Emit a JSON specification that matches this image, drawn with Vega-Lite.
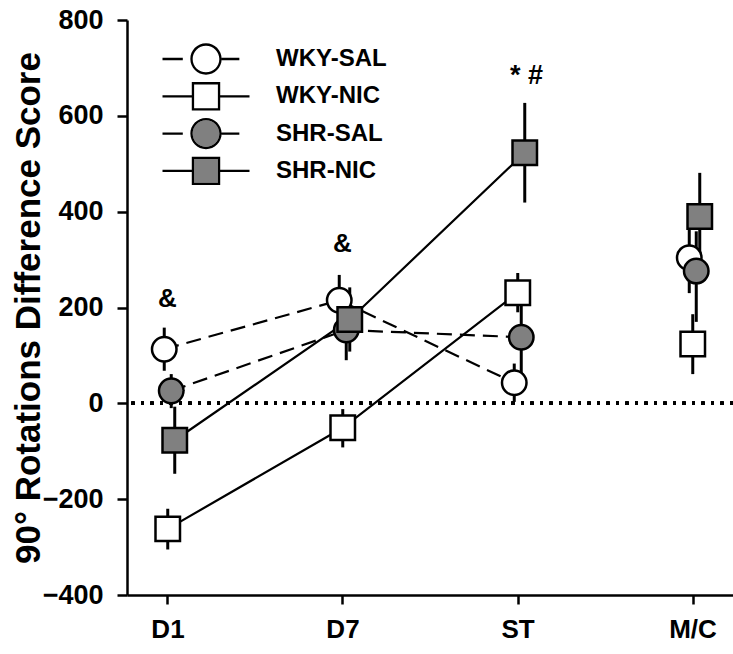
{
  "$schema": "https://vega.github.io/schema/vega-lite/v6.json",
  "width": 606,
  "height": 575,
  "autosize": {"type": "none"},
  "padding": {"left": 127, "top": 20, "right": 0, "bottom": 59},
  "background": "white",
  "config": {
    "view": {"stroke": null},
    "font": "Liberation Sans",
    "axis": {"grid": false, "domainColor": "black", "tickColor": "black", "labelColor": "black", "titleColor": "black", "domainWidth": 2.5, "tickWidth": 2.5, "labelFontWeight": "bold", "labelFont": "Liberation Sans", "titleFont": "Liberation Sans"},
    "legend": {
      "title": null, "orient": "none", "legendX": 64.5, "legendY": 24.5, "padding": 0,
      "symbolSize": 841, "symbolStrokeWidth": 0,
      "labelFontSize": 24, "labelFontWeight": "bold", "labelFont": "Liberation Sans", "labelColor": "black",
      "labelOffset": 55.5, "rowPadding": 4.3
    }
  },
  "datasets": {
    "scores": [
      {"group": "WKY-SAL", "phase": "D1", "mean": 113, "lo": 68, "hi": 158},
      {"group": "WKY-SAL", "phase": "D7", "mean": 215, "lo": 165, "hi": 268},
      {"group": "WKY-SAL", "phase": "ST", "mean": 43, "lo": 3, "hi": 83},
      {"group": "WKY-SAL", "phase": "M/C", "mean": 304, "lo": 230, "hi": 370},
      {"group": "WKY-NIC", "phase": "D1", "mean": -262, "lo": -305, "hi": -220},
      {"group": "WKY-NIC", "phase": "D7", "mean": -51, "lo": -92, "hi": -12},
      {"group": "WKY-NIC", "phase": "ST", "mean": 231, "lo": 190, "hi": 272},
      {"group": "WKY-NIC", "phase": "M/C", "mean": 124, "lo": 61, "hi": 186},
      {"group": "SHR-SAL", "phase": "D1", "mean": 26, "lo": -10, "hi": 61},
      {"group": "SHR-SAL", "phase": "D7", "mean": 153, "lo": 90, "hi": 215},
      {"group": "SHR-SAL", "phase": "ST", "mean": 138, "lo": 43, "hi": 238},
      {"group": "SHR-SAL", "phase": "M/C", "mean": 276, "lo": 170, "hi": 359},
      {"group": "SHR-NIC", "phase": "D1", "mean": -77, "lo": -147, "hi": -7},
      {"group": "SHR-NIC", "phase": "D7", "mean": 175, "lo": 108, "hi": 242},
      {"group": "SHR-NIC", "phase": "ST", "mean": 523, "lo": 419, "hi": 627},
      {"group": "SHR-NIC", "phase": "M/C", "mean": 390, "lo": 290, "hi": 481}
    ],
    "notes": [
      {"phase": "D1", "y": 218, "label": "&"},
      {"phase": "D7", "y": 332, "label": "&"}
    ],
    "stars": [
      {"phase": "ST", "y": 683, "label": "* #"}
    ]
  },
  "resolve": {"scale": {"shape": "independent", "fill": "independent"}},
  "layer": [
    {
      "data": {"name": "scores"},
      "mark": {"type": "rule", "color": "black", "strokeWidth": 3, "strokeDash": [3, 6.5]},
      "encoding": {
        "y": {"datum": 0, "type": "quantitative",
          "scale": {"domain": [-400, 800], "nice": false, "zero": false},
          "axis": {"title": "90°  Rotations Difference Score", "values": [-400, -200, 0, 200, 400, 600, 800], "tickSize": 10, "labelFontSize": 27, "labelPadding": 14, "titleFontSize": 35, "titleFontWeight": "bold", "titlePadding": -4}}
      }
    },
    {
      "data": {"name": "scores"},
      "transform": [{"filter": "datum.phase !== 'M/C' && indexof(datum.group, 'SAL') >= 0"}],
      "mark": {"type": "line", "color": "black", "strokeWidth": 2.2, "strokeDash": [15, 8]},
      "encoding": {
        "x": {"field": "phase", "type": "nominal",
          "scale": {"type": "point", "domain": ["D1", "D7", "ST", "M/C"], "padding": 0.2314},
          "axis": {"title": null, "labelAngle": 0, "tickSize": 9, "labelPadding": 12, "labelFontSize": 26}},
        "xOffset": {"field": "group", "type": "nominal",
          "scale": {"type": "point", "domain": ["WKY-SAL", "WKY-NIC", "SHR-SAL", "SHR-NIC"], "range": [-5, 9]}},
        "y": {"field": "mean", "type": "quantitative"},
        "detail": {"field": "group"}
      }
    },
    {
      "data": {"name": "scores"},
      "transform": [{"filter": "datum.phase !== 'M/C' && indexof(datum.group, 'NIC') >= 0"}],
      "mark": {"type": "line", "color": "black", "strokeWidth": 2.2},
      "encoding": {
        "x": {"field": "phase", "type": "nominal",
          "scale": {"type": "point", "domain": ["D1", "D7", "ST", "M/C"], "padding": 0.2314}},
        "xOffset": {"field": "group", "type": "nominal",
          "scale": {"type": "point", "domain": ["WKY-SAL", "WKY-NIC", "SHR-SAL", "SHR-NIC"], "range": [-5, 9]}},
        "y": {"field": "mean", "type": "quantitative"},
        "detail": {"field": "group"}
      }
    },
    {
      "data": {"name": "scores"},
      "mark": {"type": "rule", "color": "black", "strokeWidth": 3},
      "encoding": {
        "x": {"field": "phase", "type": "nominal",
          "scale": {"type": "point", "domain": ["D1", "D7", "ST", "M/C"], "padding": 0.2314}},
        "xOffset": {"field": "group", "type": "nominal",
          "scale": {"type": "point", "domain": ["WKY-SAL", "WKY-NIC", "SHR-SAL", "SHR-NIC"], "range": [-5, 9]}},
        "y": {"field": "lo", "type": "quantitative"},
        "y2": {"field": "hi"}
      }
    },
    {
      "data": {"name": "scores"},
      "mark": {"type": "point", "filled": true, "stroke": "black", "strokeWidth": 2.5, "opacity": 1, "size": 600},
      "encoding": {
        "x": {"field": "phase", "type": "nominal",
          "scale": {"type": "point", "domain": ["D1", "D7", "ST", "M/C"], "padding": 0.2314}},
        "xOffset": {"field": "group", "type": "nominal",
          "scale": {"type": "point", "domain": ["WKY-SAL", "WKY-NIC", "SHR-SAL", "SHR-NIC"], "range": [-5, 9]}},
        "y": {"field": "mean", "type": "quantitative"},
        "shape": {"field": "group", "type": "nominal", "legend": null,
          "scale": {"domain": ["WKY-SAL", "WKY-NIC", "SHR-SAL", "SHR-NIC"], "range": ["circle", "square", "circle", "square"]}},
        "fill": {"field": "group", "type": "nominal", "legend": null,
          "scale": {"domain": ["WKY-SAL", "WKY-NIC", "SHR-SAL", "SHR-NIC"], "range": ["#ffffff", "#ffffff", "#808080", "#808080"]}}
      }
    },
    {
      "data": {"name": "scores"},
      "transform": [{"filter": "false"}],
      "mark": {"type": "point", "filled": true, "color": "#808080", "strokeWidth": 0, "opacity": 1},
      "encoding": {
        "x": {"field": "phase", "type": "nominal",
          "scale": {"type": "point", "domain": ["D1", "D7", "ST", "M/C"], "padding": 0.2314}},
        "y": {"field": "mean", "type": "quantitative"},
        "shape": {"field": "group", "type": "nominal",
          "scale": {"domain": ["WKY-SAL", "WKY-NIC", "SHR-SAL", "SHR-NIC"],
            "range": [
              "M-0.92,0A0.92,0.92 0 1,1 0.92,0A0.92,0.92 0 1,1 -0.92,0Z M-3,0L-3,0 M3,0L3,0 M0,-1.08L0,-1.08 M0,1.08L0,1.08",
              "M-0.82,-0.82L0.82,-0.82L0.82,0.82L-0.82,0.82Z M-3,0L-3,0 M3,0L3,0 M0,-1.08L0,-1.08 M0,1.08L0,1.08",
              "M-0.92,0A0.92,0.92 0 1,1 0.92,0A0.92,0.92 0 1,1 -0.92,0Z M-3,0L-3,0 M3,0L3,0 M0,-1.08L0,-1.08 M0,1.08L0,1.08",
              "M-0.82,-0.82L0.82,-0.82L0.82,0.82L-0.82,0.82Z M-3,0L-3,0 M3,0L3,0 M0,-1.08L0,-1.08 M0,1.08L0,1.08"]},
          "legend": {"labelOpacity": 0}},
        "fill": {"field": "group", "type": "nominal",
          "scale": {"domain": ["WKY-SAL", "WKY-NIC", "SHR-SAL", "SHR-NIC"], "range": ["#ffffff", "#ffffff", "#808080", "#808080"]},
          "legend": {"labelOpacity": 0}}
      }
    },
    {
      "data": {"name": "scores"},
      "transform": [{"filter": "false"}],
      "mark": {"type": "point", "filled": true, "color": "black", "strokeWidth": 0, "opacity": 1},
      "encoding": {
        "x": {"field": "phase", "type": "nominal",
          "scale": {"type": "point", "domain": ["D1", "D7", "ST", "M/C"], "padding": 0.2314}},
        "y": {"field": "mean", "type": "quantitative"},
        "shape": {"field": "group", "type": "nominal",
          "scale": {"domain": ["WKY-SAL", "WKY-NIC", "SHR-SAL", "SHR-NIC"],
            "range": [
              "M-3,-0.08L-1.6,-0.08L-1.6,0.08L-3,0.08Z M1.08,-0.08L2.3,-0.08L2.3,0.08L1.08,0.08Z M-1.08,0A1.08,1.08 0 1,0 1.08,0A1.08,1.08 0 1,0 -1.08,0Z M-0.92,0A0.92,0.92 0 1,1 0.92,0A0.92,0.92 0 1,1 -0.92,0Z M3,0L3,0",
              "M-3,-0.08L-0.98,-0.08L-0.98,0.08L-3,0.08Z M0.98,-0.08L3,-0.08L3,0.08L0.98,0.08Z M-0.98,-0.98L0.98,-0.98L0.98,0.98L-0.98,0.98Z M-0.82,-0.82L-0.82,0.82L0.82,0.82L0.82,-0.82Z M0,-1.08L0,-1.08 M0,1.08L0,1.08",
              "M-3,-0.08L-1.6,-0.08L-1.6,0.08L-3,0.08Z M1.08,-0.08L2.3,-0.08L2.3,0.08L1.08,0.08Z M-1.08,0A1.08,1.08 0 1,0 1.08,0A1.08,1.08 0 1,0 -1.08,0Z M-0.92,0A0.92,0.92 0 1,1 0.92,0A0.92,0.92 0 1,1 -0.92,0Z M3,0L3,0",
              "M-3,-0.08L-0.98,-0.08L-0.98,0.08L-3,0.08Z M0.98,-0.08L3,-0.08L3,0.08L0.98,0.08Z M-0.98,-0.98L0.98,-0.98L0.98,0.98L-0.98,0.98Z M-0.82,-0.82L-0.82,0.82L0.82,0.82L0.82,-0.82Z M0,-1.08L0,-1.08 M0,1.08L0,1.08"]},
          "legend": {"symbolFillColor": "black"}}
      }
    },
    {
      "data": {"name": "notes"},
      "mark": {"type": "text", "fontSize": 26, "fontWeight": "bold", "font": "Liberation Sans", "color": "black", "baseline": "middle"},
      "encoding": {
        "x": {"field": "phase", "type": "nominal",
          "scale": {"type": "point", "domain": ["D1", "D7", "ST", "M/C"], "padding": 0.2314}},
        "y": {"field": "y", "type": "quantitative"},
        "text": {"field": "label"}
      }
    },
    {
      "data": {"name": "stars"},
      "mark": {"type": "text", "fontSize": 27, "fontWeight": "bold", "font": "Liberation Sans", "color": "black", "baseline": "middle", "dx": 9},
      "encoding": {
        "x": {"field": "phase", "type": "nominal",
          "scale": {"type": "point", "domain": ["D1", "D7", "ST", "M/C"], "padding": 0.2314}},
        "y": {"field": "y", "type": "quantitative"},
        "text": {"field": "label"}
      }
    }
  ]
}
